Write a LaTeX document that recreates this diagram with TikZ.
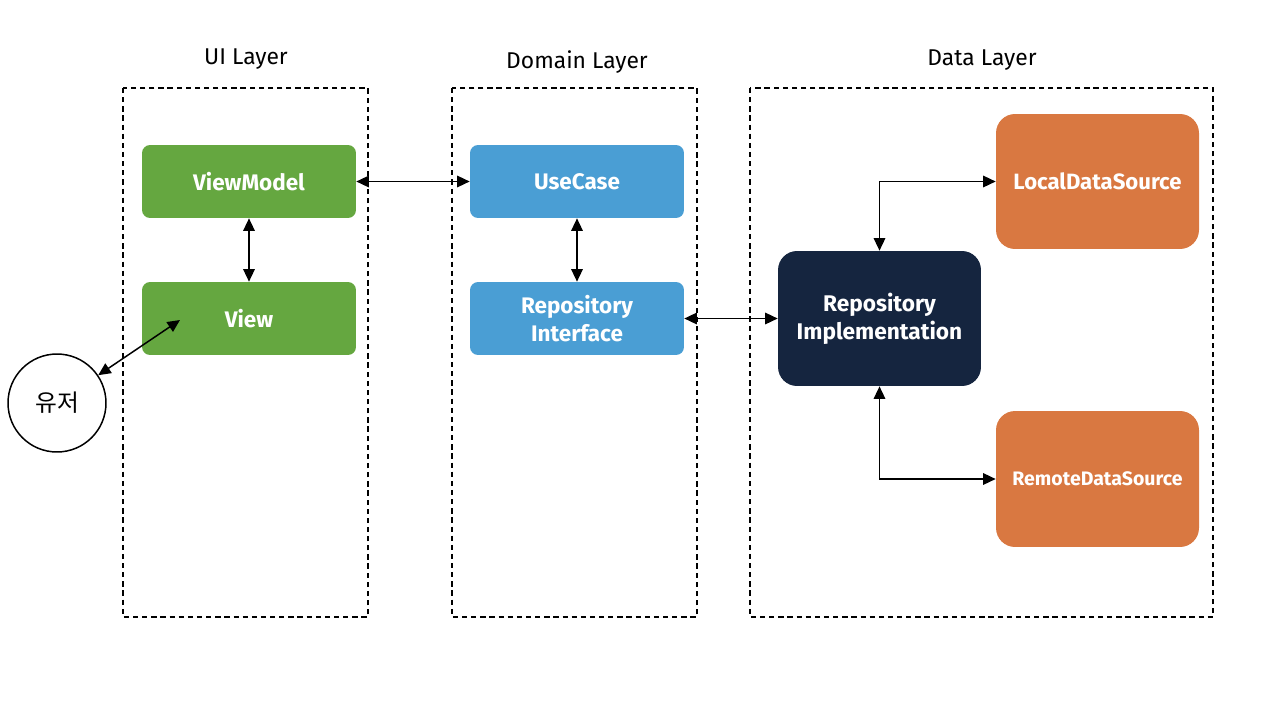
\documentclass[tikz,border=0pt]{standalone}
\usepackage{fontspec}
\setmainfont{Fira Sans}
\newfontfamily\krfont{Noto Sans CJK KR}
\usetikzlibrary{arrows.meta}
\definecolor{uigreen}{HTML}{65A740}
\definecolor{domblue}{HTML}{4A9ED4}
\definecolor{navy}{HTML}{15253F}
\definecolor{dsorange}{HTML}{D97841}
\tikzset{
  layerbox/.style={draw=black, line width=0.8pt, dash pattern=on 3pt off 2.2pt},
  layertitle/.style={font=\fontsize{13}{15}\selectfont},
  smallbox/.style={rounded corners=0.16cm, minimum width=4.28cm, minimum height=1.46cm, text=white, font=\fontsize{12.8}{15.9}\selectfont\bfseries, align=center, inner sep=0pt},
  bigbox/.style={rounded corners=0.38cm, minimum width=4.06cm, minimum height=2.7cm, text=white, font=\fontsize{12.9}{15.9}\selectfont\bfseries, align=center, inner sep=0pt},
  link/.style={line width=0.85pt, {Triangle[length=2.5mm,width=2.3mm]}-{Triangle[length=2.5mm,width=2.3mm]}}
}
\begin{document}
\begin{tikzpicture}[x=0.02cm,y=-0.02cm]
\useasboundingbox (0,0) rectangle (1280,720);
% layer boxes
\draw[layerbox] (123,88) rectangle (368,617);
\draw[layerbox] (452,88) rectangle (697,617);
\draw[layerbox] (750,88) rectangle (1213,617);
\node[layertitle] (tUI) at (246,59.5) {UI Layer};
\node[layertitle] (tDom) at (577,62) {Domain Layer};
\node[layertitle] (tData) at (982,60.5) {Data Layer};
% nodes
\node[smallbox, fill=uigreen] (VM) at (249,181.5) {ViewModel};
\node[smallbox, fill=uigreen] (View) at (249,318.5) {View};
\node[smallbox, fill=domblue] (UC) at (577,181.5) {UseCase};
\node[smallbox, fill=domblue] (RI) at (577,318.5) {Repository\\Interface};
\node[bigbox, fill=navy] (Impl) at (879.5,318.5) {Repository\\Implementation};
\node[bigbox, fill=dsorange, font=\fontsize{12.6}{15}\selectfont\bfseries] (Local) at (1097.5,181.5) {LocalDataSource};
\node[bigbox, fill=dsorange, minimum height=2.72cm, font=\fontsize{11.1}{13}\selectfont\bfseries] (Remote) at (1097.5,479) {RemoteDataSource};
\node[draw=black, line width=0.85pt, circle, minimum size=1.96cm, inner sep=0pt, font=\krfont\fontsize{13.5}{15}\selectfont] (User) at (57,403) {유저};
\coordinate (vtip) at (180,320);
% connectors
\draw[link] (VM.east) -- (UC.west);
\draw[link] (VM.south) -- (View.north);
\draw[link] (UC.south) -- (RI.north);
\draw[link] (RI.east) -- (Impl.west);
\draw[link] (Impl.north) |- (Local.west);
\draw[link] (Impl.south) |- (Remote.west);
\draw[link] (User) -- (vtip);
\end{tikzpicture}
\end{document}
